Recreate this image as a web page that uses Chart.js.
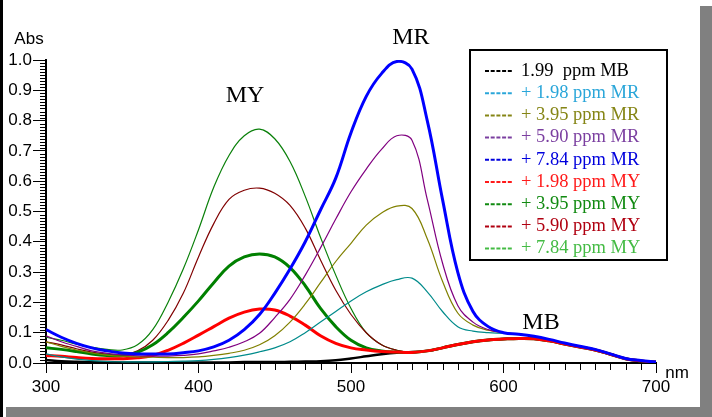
<!DOCTYPE html>
<html>
<head>
<meta charset="utf-8">
<script src="https://cdn.jsdelivr.net/npm/chart.js@4.4.0/dist/chart.umd.min.js"></script>
<style>
  html, body { margin: 0; padding: 0; background: #fff; }
  #wrap { position: relative; width: 712px; height: 417px; }
</style>
</head>
<body>
<div id="wrap"><canvas id="absChart" width="712" height="417"></canvas></div>
<script>
// wavelength (nm), 10 nm steps
const wavelengths = [300,310,320,330,340,350,360,370,380,390,400,410,420,430,440,450,460,470,480,490,500,
                     510,520,530,540,550,560,570,580,590,600,610,620,630,640,650,660,670,680,690,700];

// absorbance
const mb199 = [0.010,0.006,0.004,0.003,0.003,0.002,0.002,0.002,0.002,0.002,0.002,0.002,0.002,0.003,0.003,0.003,0.004,0.005,0.006,0.009,0.015,
               0.022,0.029,0.034,0.036,0.040,0.050,0.061,0.070,0.076,0.079,0.081,0.080,0.073,0.063,0.053,0.043,0.029,0.014,0.007,0.003];
const mr198 = [0.030,0.020,0.013,0.008,0.005,0.004,0.004,0.004,0.005,0.006,0.008,0.012,0.018,0.026,0.037,0.050,0.070,0.100,0.135,0.170,0.205,
               0.235,0.258,0.275,0.280,0.235,0.170,0.120,0.105,0.100,0.098,0.095,0.088,0.078,0.066,0.055,0.045,0.030,0.015,0.008,0.003];
const mr395 = [0.070,0.055,0.043,0.033,0.026,0.022,0.020,0.019,0.018,0.018,0.020,0.025,0.032,0.042,0.060,0.090,0.135,0.195,0.265,0.335,0.395,
               0.455,0.495,0.518,0.510,0.410,0.270,0.165,0.125,0.108,0.100,0.095,0.088,0.078,0.066,0.055,0.045,0.030,0.015,0.008,0.003];
const mr590 = [0.090,0.070,0.055,0.040,0.032,0.027,0.024,0.023,0.023,0.025,0.030,0.040,0.052,0.070,0.098,0.150,0.210,0.290,0.380,0.475,0.565,
               0.640,0.705,0.750,0.735,0.540,0.330,0.190,0.135,0.110,0.100,0.095,0.088,0.078,0.066,0.055,0.045,0.030,0.015,0.008,0.003];
const mr784 = [0.110,0.085,0.065,0.050,0.040,0.033,0.030,0.030,0.030,0.034,0.040,0.053,0.075,0.110,0.160,0.230,0.310,0.400,0.505,0.610,0.760,
               0.880,0.955,0.995,0.970,0.800,0.540,0.300,0.170,0.120,0.100,0.095,0.088,0.078,0.066,0.055,0.045,0.030,0.015,0.008,0.003];
const my198 = [0.025,0.022,0.018,0.015,0.014,0.014,0.017,0.025,0.042,0.065,0.092,0.120,0.148,0.168,0.178,0.175,0.155,0.125,0.090,0.065,0.050,
               0.043,0.038,0.036,0.035,0.040,0.050,0.061,0.070,0.076,0.079,0.081,0.080,0.073,0.063,0.053,0.043,0.029,0.014,0.007,0.003];
const my395 = [0.050,0.045,0.038,0.030,0.025,0.024,0.035,0.060,0.100,0.150,0.205,0.265,0.320,0.350,0.360,0.350,0.315,0.255,0.180,0.120,0.075,
               0.050,0.040,0.036,0.035,0.040,0.050,0.061,0.070,0.076,0.079,0.081,0.080,0.073,0.063,0.053,0.043,0.029,0.014,0.007,0.003];
const my590 = [0.070,0.060,0.047,0.036,0.029,0.027,0.040,0.075,0.140,0.230,0.350,0.460,0.540,0.570,0.577,0.560,0.520,0.445,0.340,0.240,0.160,
               0.100,0.060,0.042,0.035,0.040,0.050,0.061,0.070,0.076,0.079,0.081,0.080,0.073,0.063,0.053,0.043,0.029,0.014,0.007,0.003];
const my784 = [0.085,0.075,0.062,0.052,0.045,0.043,0.060,0.110,0.200,0.310,0.440,0.580,0.685,0.750,0.772,0.740,0.665,0.550,0.415,0.290,0.180,
               0.100,0.060,0.042,0.035,0.040,0.050,0.061,0.070,0.076,0.079,0.081,0.080,0.073,0.063,0.053,0.043,0.029,0.014,0.007,0.003];

const legendLabels = ['1.99  ppm MB', '+ 1.98 ppm MR', '+ 3.95 ppm MR', '+ 5.90 ppm MR', '+ 7.84 ppm MR',
                      '+ 1.98 ppm MY', '+ 3.95 ppm MY', '+ 5.90 ppm MY', '+ 7.84 ppm MY'];
const legendColors = ['#000000', '#2aa6d9', '#858515', '#7b3fa0', '#0000dd', '#ff1a1a', '#118a11', '#b00010', '#44bb44'];

const yTicks = [0, 0.1, 0.2, 0.3, 0.4, 0.5, 0.6, 0.7, 0.8, 0.9, 1.0];
const xTicks = [300, 400, 500, 600, 700];

// peak labels, anchored in data units
const peakNames = [
  { text: 'MY', x: 430.5, y: 0.881 },
  { text: 'MR', x: 539.3, y: 1.073 },
  { text: 'MB', x: 624.6, y: 0.132 }
];

function pts(vals) {
  return wavelengths.map((w, i) => ({ x: w, y: vals[i] }));
}

function line(label, vals, color, width) {
  return {
    label: label,
    data: pts(vals),
    borderColor: color,
    borderWidth: width,
    pointRadius: 0,
    fill: false,
    tension: 0.4
  };
}

// first in the list is drawn on top
const datasets = [
  line(legendLabels[4], mr784, '#0000ff', 3),
  line(legendLabels[3], mr590, '#800080', 1.2),
  line(legendLabels[2], mr395, '#808000', 1.2),
  line(legendLabels[1], mr198, '#008b8b', 1.2),
  line(legendLabels[5], my198, '#ff0000', 3),
  line(legendLabels[6], my395, '#008000', 3),
  line(legendLabels[7], my590, '#800000', 1.2),
  line(legendLabels[8], my784, '#0a800a', 1.2),
  line(legendLabels[0], mb199, '#000000', 2.5)
];

const frame = {
  id: 'frame',
  beforeDraw(chart) {
    const c = chart.ctx;
    c.save();
    c.fillStyle = '#ffffff';
    c.fillRect(0, 0, chart.width, chart.height);
    c.fillStyle = '#000000';
    c.fillRect(0, 0, 3, chart.height);
    c.fillStyle = '#808080';
    c.fillRect(700, 6, 12, chart.height - 6);
    c.fillRect(6, 407, chart.width - 6, 10);
    c.restore();
  }
};

const extras = {
  id: 'extras',
  afterDraw(chart) {
    const c = chart.ctx;
    const xs = chart.scales.x, ys = chart.scales.y;
    const a = chart.chartArea;
    c.save();
    // minor ticks
    c.strokeStyle = '#000';
    c.lineWidth = 1;
    c.beginPath();
    for (let i = 0; i <= 100; i++) {
      if (i % 10 === 0) continue;
      const py = Math.round(ys.getPixelForValue(i / 100)) + 0.5;
      c.moveTo(a.left - 6, py);
      c.lineTo(a.left, py);
    }
    for (let w = 300; w <= 700; w += 10) {
      if (w % 100 === 0) continue;
      const px = Math.round(xs.getPixelForValue(w)) + 0.5;
      c.moveTo(px, a.bottom);
      c.lineTo(px, a.bottom + 7);
    }
    c.stroke();

    // axis names
    c.fillStyle = '#000';
    c.font = '17px "Liberation Sans", Arial, sans-serif';
    c.textAlign = 'center';
    c.textBaseline = 'middle';
    c.fillText('Abs', a.left - 17, a.top - 21);
    c.fillText('nm', a.right + 21, a.bottom + 10);

    // peak names
    c.font = '24px "Liberation Serif", "Times New Roman", serif';
    peakNames.forEach(p => {
      c.fillText(p.text, xs.getPixelForValue(p.x), ys.getPixelForValue(p.y));
    });

    // legend box
    const bx = 470, by = 50, bw = 197, bh = 210, rowH = 22.2;
    c.lineWidth = 2;
    c.strokeStyle = '#000';
    c.fillStyle = '#fff';
    c.fillRect(bx, by, bw, bh);
    c.strokeRect(bx, by, bw, bh);
    c.font = '18.5px "Liberation Serif", "Times New Roman", serif';
    c.textAlign = 'left';
    legendLabels.forEach((t, i) => {
      const cy = by + 20 + i * rowH;
      c.strokeStyle = legendColors[i];
      c.lineWidth = 2;
      c.setLineDash([4, 1.7]);
      c.beginPath();
      c.moveTo(485, cy + 1);
      c.lineTo(513, cy + 1);
      c.stroke();
      c.setLineDash([]);
      c.fillStyle = legendColors[i];
      c.fillText(t, 521, cy + 1);
    });
    c.restore();
  }
};

const tickFont = { family: '"Liberation Sans", Arial, sans-serif', size: 17 };

new Chart(document.getElementById('absChart').getContext('2d'), {
  type: 'line',
  data: { datasets: datasets },
  options: {
    responsive: false,
    animation: false,
    layout: { padding: { top: 60, right: 56, left: 0, bottom: 0 } },
    plugins: { legend: { display: false }, tooltip: { enabled: false } },
    scales: {
      x: {
        type: 'linear',
        min: 300,
        max: 700,
        afterFit: s => { s.height = 54; },
        afterBuildTicks: s => { s.ticks = xTicks.map(v => ({ value: v })); },
        ticks: { font: tickFont, color: '#000', padding: 4, maxRotation: 0 },
        grid: { drawOnChartArea: false, drawTicks: true, tickLength: 10, color: '#000', lineWidth: 1 },
        border: { display: true, color: '#000', width: 2 }
      },
      y: {
        type: 'linear',
        min: 0,
        max: 1.0,
        afterFit: s => { s.width = 46; },
        afterBuildTicks: s => { s.ticks = yTicks.map(v => ({ value: v })); },
        ticks: { font: tickFont, color: '#000', padding: 1, callback: v => v.toFixed(1) },
        grid: { drawOnChartArea: false, drawTicks: true, tickLength: 13, color: '#000', lineWidth: 1 },
        border: { display: true, color: '#000', width: 2 }
      }
    }
  },
  plugins: [frame, extras]
});
</script>
</body>
</html>
